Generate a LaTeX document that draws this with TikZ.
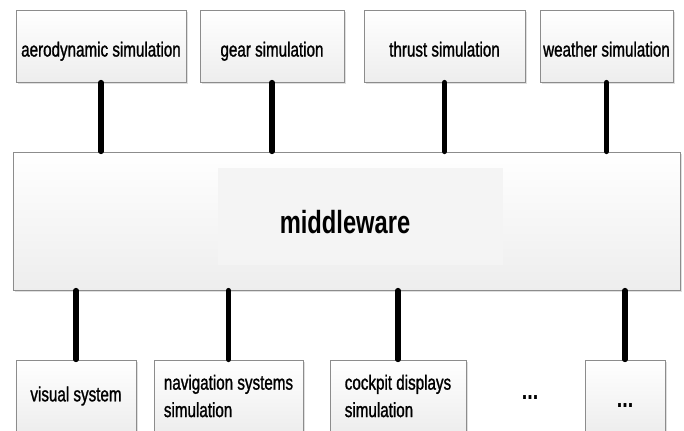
\documentclass[tikz,border=0pt]{standalone}
\usepackage{fontspec}
\setmainfont{Liberation Sans}[FakeStretch=0.74]
\newfontfamily\labelfont{Liberation Sans}[FakeStretch=0.74,FakeBold=1.2]
\usepackage{tikz}
\usetikzlibrary{shadows}
\definecolor{edge}{HTML}{8C8C8C}
\definecolor{hilite}{HTML}{F4F4F4}

\begin{document}
\begin{tikzpicture}[x=0.25mm,y=-0.25mm,
  box/.style={draw=edge,line width=0.6pt,top color=white,bottom color=black!7,
    minimum height=18mm,align=left,inner sep=0pt,
    font=\labelfont\fontsize{14.6}{19.5}\selectfont,
    drop shadow={shadow xshift=0.4mm,shadow yshift=-0.4mm,opacity=0.25}},
  upper/.style={box,text height=18pt,text depth=3pt},
  link/.style={line width=3.6pt,line cap=round,draw=black}]
\clip (0,0) rectangle (684,430);
% simulation modules on top
\node[upper,minimum width=42.5mm] (aero) at (101,46) {aerodynamic simulation};
\node[upper,minimum width=36mm] (gear) at (272,46) {gear simulation};
\node[upper,minimum width=40.25mm] (thrust) at (444.5,46) {thrust simulation};
\node[upper,minimum width=33.25mm] (weather) at (606.5,46) {weather simulation};
% the bus in the middle
\node[box,minimum width=166.75mm,minimum height=34.5mm] (mw) at (346.5,221) {};
\node[fill=hilite,minimum width=71.25mm,minimum height=24.25mm] (hl) at (360.5,216.5) {};
\node[font=\fontsize{22.8}{26}\selectfont\bfseries] (mwlabel) at (345,222) {middleware};
% clients below
\node[box,minimum width=30mm] (visual) at (76,396) {visual system};
\node[box,minimum width=37.25mm] (nav) at (228.5,396) {navigation systems\\simulation};
\node[box,minimum width=34mm] (cockpit) at (398,396) {cockpit displays\\simulation};
\node[font=\fontsize{19}{22}\selectfont\bfseries] (dots) at (530,398) {...};
\node[box,minimum width=20mm,text height=17pt,text depth=0pt,
  font=\fontsize{19}{22}\selectfont\bfseries] (more) at (625,396) {...};
\draw[link] (aero.south) -- (aero.south |- mw.north);
\draw[link] (gear.south) -- (gear.south |- mw.north);
\draw[link] (thrust.south) -- (thrust.south |- mw.north);
\draw[link] (weather.south) -- (weather.south |- mw.north);
\draw[link] (visual.north) -- (visual.north |- mw.south);
\draw[link] (nav.north) -- (nav.north |- mw.south);
\draw[link] (cockpit.north) -- (cockpit.north |- mw.south);
\draw[link] (more.north) -- (more.north |- mw.south);
\end{tikzpicture}
\end{document}
